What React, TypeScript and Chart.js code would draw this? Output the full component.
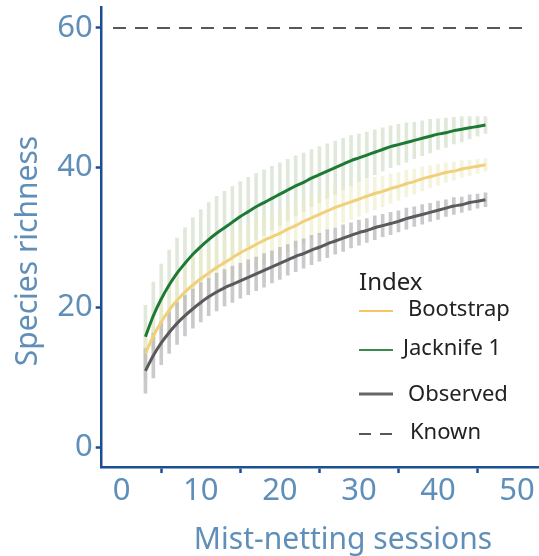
import React, { useEffect, useRef } from "react";
import { Chart, registerables } from "chart.js";

Chart.register(...registerables);

const sessions = [3, 4, 5, 6, 7, 8, 9, 10, 11, 12, 13, 14, 15, 16, 17, 18, 19, 20, 21, 22, 23, 24, 25, 26, 27, 28, 29, 30, 31, 32, 33, 34, 35, 36, 37, 38, 39, 40, 41, 42, 43, 44, 45, 46];

const observed = [10.9, 13.1, 14.9, 16.4, 17.7, 18.8, 19.8, 20.7, 21.5, 22.2, 22.8, 23.3, 23.8, 24.3, 24.8, 25.3, 25.8, 26.3, 26.8, 27.3, 27.7, 28.2, 28.6, 29.1, 29.5, 29.9, 30.3, 30.7, 31.0, 31.4, 31.7, 32.0, 32.3, 32.7, 33.0, 33.3, 33.6, 33.9, 34.2, 34.5, 34.7, 35.0, 35.2, 35.4];
const observedSd = [3.2, 3.2, 3.1, 3.0, 3.0, 2.9, 2.8, 2.8, 2.7, 2.7, 2.6, 2.6, 2.5, 2.5, 2.4, 2.4, 2.3, 2.3, 2.2, 2.2, 2.1, 2.1, 2.0, 2.0, 1.9, 1.9, 1.8, 1.8, 1.7, 1.7, 1.6, 1.6, 1.5, 1.5, 1.4, 1.4, 1.3, 1.3, 1.2, 1.2, 1.1, 1.1, 1.0, 1.0];

const bootstrap = [13.4, 15.9, 17.9, 19.6, 21.0, 22.2, 23.2, 24.1, 24.9, 25.7, 26.4, 27.1, 27.8, 28.4, 29.0, 29.6, 30.1, 30.6, 31.2, 31.7, 32.3, 32.8, 33.3, 33.8, 34.3, 34.7, 35.1, 35.5, 35.9, 36.3, 36.6, 37.0, 37.3, 37.7, 38.0, 38.4, 38.7, 39.0, 39.3, 39.5, 39.8, 40.0, 40.2, 40.4];
const bootstrapSd = [3.6, 3.8, 3.9, 3.9, 3.9, 3.9, 3.9, 3.9, 3.8, 3.8, 3.7, 3.7, 3.6, 3.5, 3.5, 3.4, 3.3, 3.3, 3.2, 3.1, 3.0, 3.0, 2.9, 2.8, 2.7, 2.6, 2.5, 2.5, 2.4, 2.3, 2.2, 2.1, 2.0, 1.9, 1.8, 1.7, 1.6, 1.5, 1.4, 1.3, 1.2, 1.1, 1.0, 0.9];

const jackknife = [15.8, 18.8, 21.2, 23.2, 24.9, 26.3, 27.6, 28.7, 29.7, 30.6, 31.4, 32.2, 33.0, 33.7, 34.4, 35.0, 35.6, 36.2, 36.8, 37.4, 37.9, 38.5, 39.0, 39.5, 40.0, 40.5, 41.0, 41.4, 41.8, 42.2, 42.6, 43.0, 43.3, 43.6, 43.9, 44.2, 44.5, 44.8, 45.0, 45.3, 45.5, 45.7, 45.9, 46.1];
const jackknifeSd = [4.5, 4.8, 5.0, 5.0, 5.0, 5.1, 5.2, 5.3, 5.3, 5.3, 5.2, 5.1, 5.0, 4.9, 4.8, 4.7, 4.6, 4.5, 4.4, 4.3, 4.2, 4.1, 4.0, 3.9, 3.8, 3.7, 3.6, 3.4, 3.3, 3.2, 3.1, 3.0, 2.9, 2.8, 2.6, 2.5, 2.4, 2.2, 2.1, 1.9, 1.8, 1.6, 1.4, 1.2];

const knownRichness = 60;
const knownSpan = [-1.1, 51.0];

const xTicks = [0, 10, 20, 30, 40, 50];
const yTicks = [0, 20, 40, 60];

const legendTitle = "Index";
const legendItems = ["Bootstrap", "Jacknife 1", "Observed", "Known"];
const xTitle = "Mist-netting sessions";
const yTitle = "Species richness";

const FONT = "'Noto Sans', sans-serif";
const AXIS_BLUE = "#1a4f91";
const LABEL_BLUE = "#5f8fb9";

const C_GREEN = "#1d7a35";
const C_YELLOW = "#f1d07c";
const C_GRAY = "#5a595b";

function lineData(vals: number[]) {
  return sessions.map((s, i) => ({ x: s, y: vals[i] }));
}
function barData(vals: number[], sd: number[]) {
  return sessions.map((s, i) => ({ x: s, y: [vals[i] - sd[i], vals[i] + sd[i]] }));
}

const decorPlugin = {
  id: "decor",
  afterDraw(chart: any) {
    const ctx = chart.ctx as CanvasRenderingContext2D;
    ctx.save();
    // axis titles
    ctx.fillStyle = LABEL_BLUE;
    ctx.font = `30px ${FONT}`;
    ctx.textAlign = "center";
    ctx.textBaseline = "middle";
    ctx.fillText(xTitle, 343, 540);
    ctx.save();
    ctx.translate(28, 251);
    ctx.rotate(-Math.PI / 2);
    ctx.fillText(yTitle, 0, 0);
    ctx.restore();

    // legend
    ctx.fillStyle = "#222222";
    ctx.textAlign = "left";
    ctx.font = `24px ${FONT}`;
    ctx.fillText(legendTitle, 359, 283);
    ctx.font = `22px ${FONT}`;
    const rows = [
      { y: 311, ty: 310, tx: 408, color: "#f5b13a", w: 1.5, dash: [] as number[] },
      { y: 350, ty: 349, tx: 403, color: "#3a8a4e", w: 2, dash: [] as number[] },
      { y: 394, ty: 395, tx: 408, color: "#666666", w: 3, dash: [] as number[] },
      { y: 434, ty: 433, tx: 410, color: "#222222", w: 1.5, dash: [12, 9] },
    ];
    rows.forEach((r, i) => {
      ctx.beginPath();
      ctx.setLineDash(r.dash);
      ctx.strokeStyle = r.color;
      ctx.lineWidth = r.w;
      ctx.moveTo(359, r.y);
      ctx.lineTo(393, r.y);
      ctx.stroke();
      ctx.setLineDash([]);
      ctx.fillStyle = "#222222";
      ctx.fillText(legendItems[i], r.tx, r.ty);
    });
    ctx.restore();
  },
};

export default function App() {
  const ref = useRef<HTMLCanvasElement | null>(null);

  useEffect(() => {
    document.body.style.margin = "0";
    const canvas = ref.current;
    if (!canvas) return;
    const chart = new Chart(canvas, {
      type: "line",
      data: {
        datasets: [
          {
            type: "line",
            label: "Known",
            data: [
              { x: knownSpan[0], y: knownRichness },
              { x: knownSpan[1], y: knownRichness },
            ],
            borderColor: "#222222",
            borderWidth: 1.5,
            borderDash: [13, 9],
            pointRadius: 0,
            order: 0,
          },
          {
            type: "line",
            label: "Jacknife 1",
            data: lineData(jackknife),
            borderColor: C_GREEN,
            borderWidth: 3,
            pointRadius: 0,
            tension: 0.4,
            cubicInterpolationMode: "monotone",
            order: 1,
          },
          {
            type: "line",
            label: "Bootstrap",
            data: lineData(bootstrap),
            borderColor: C_YELLOW,
            borderWidth: 3,
            pointRadius: 0,
            tension: 0.4,
            cubicInterpolationMode: "monotone",
            order: 2,
          },
          {
            type: "line",
            label: "Observed",
            data: lineData(observed),
            borderColor: C_GRAY,
            borderWidth: 3,
            pointRadius: 0,
            tension: 0.4,
            cubicInterpolationMode: "monotone",
            order: 3,
          },
          {
            type: "bar",
            label: "Observed SD",
            data: barData(observed, observedSd) as any,
            backgroundColor: "rgba(180,178,182,0.7)",
            barThickness: 3,
            grouped: false,
            order: 10,
          } as any,
          {
            type: "bar",
            label: "Bootstrap SD",
            data: barData(bootstrap, bootstrapSd) as any,
            backgroundColor: "rgba(236,236,196,0.6)",
            barThickness: 3,
            grouped: false,
            order: 11,
          } as any,
          {
            type: "bar",
            label: "Jacknife SD",
            data: barData(jackknife, jackknifeSd) as any,
            backgroundColor: "rgba(206,220,196,0.65)",
            barThickness: 3,
            grouped: false,
            order: 12,
          } as any,
        ],
      },
      options: {
        responsive: false,
        animation: false,
        devicePixelRatio: 1,
        layout: { padding: { top: 7, right: 0, left: 0, bottom: 0 } },
        plugins: {
          legend: { display: false },
          tooltip: { enabled: false },
        },
        scales: {
          x: {
            type: "linear",
            offset: false,
            min: -2.53,
            max: 52.77,
            afterBuildTicks: (s: any) => {
              s.ticks = xTicks.map((v) => ({ value: v }));
            },
            afterFit: (s: any) => {
              s.height = 89;
              s.paddingLeft = 0;
              s.paddingRight = 0;
            },
            border: { display: true, color: AXIS_BLUE, width: 2.5 },
            grid: {
              drawOnChartArea: false,
              drawTicks: true,
              tickLength: 6,
              tickColor: AXIS_BLUE,
              tickWidth: 2.5,
            },
            ticks: {
              color: LABEL_BLUE,
              font: { family: FONT, size: 31 },
              padding: 0,
              maxRotation: 0,
              autoSkip: false,
            },
          },
          y: {
            type: "linear",
            min: -2.86,
            max: 63.0,
            afterBuildTicks: (s: any) => {
              s.ticks = yTicks.map((v) => ({ value: v }));
            },
            afterFit: (s: any) => {
              s.width = 101.7;
              s.paddingTop = 0;
              s.paddingBottom = 0;
            },
            border: { display: true, color: AXIS_BLUE, width: 2.5 },
            grid: {
              drawOnChartArea: false,
              drawTicks: true,
              tickLength: 6,
              tickColor: AXIS_BLUE,
              tickWidth: 2.5,
            },
            ticks: {
              color: LABEL_BLUE,
              font: { family: FONT, size: 31 },
              padding: 3,
              autoSkip: false,
            },
          },
        },
      },
      plugins: [decorPlugin],
    } as any);
    return () => chart.destroy();
  }, []);

  return (
    <div style={{ width: 539, height: 556, position: "relative" }}>
      <canvas ref={ref} width={539} height={556} />
    </div>
  );
}
